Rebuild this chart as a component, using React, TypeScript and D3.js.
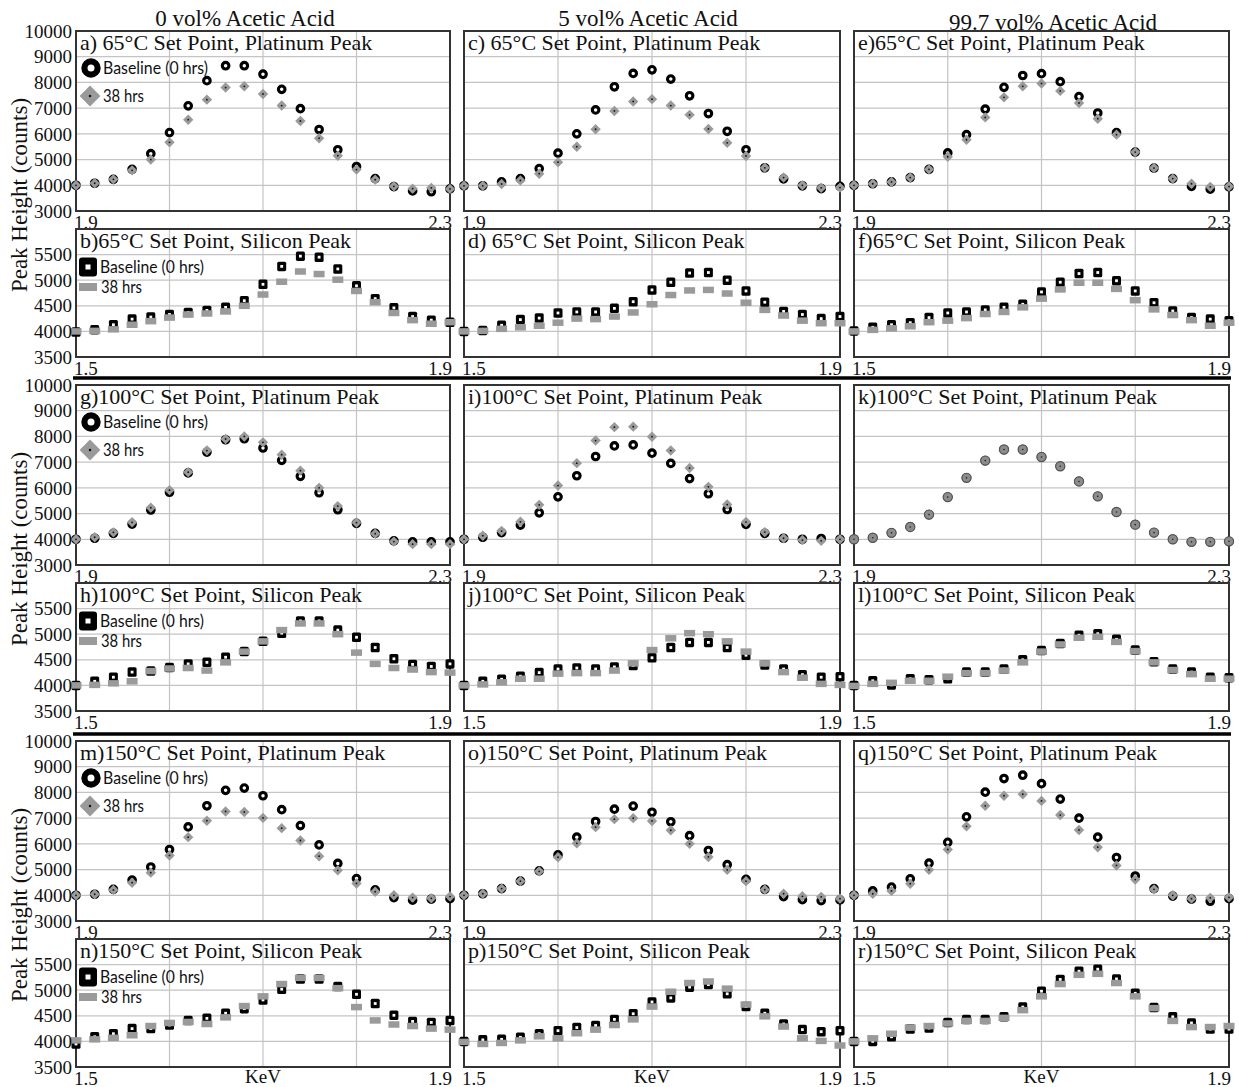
import React from "react";
import * as d3 from "d3";

// Energy positions (KeV) at which the peak heights were sampled
const platinumKeV = [1.9, 1.92, 1.94, 1.96, 1.98, 2.0, 2.02, 2.04, 2.06, 2.08, 2.1, 2.12, 2.14, 2.16, 2.18, 2.2, 2.22, 2.24, 2.26, 2.28, 2.3];
const siliconKeV = [1.5, 1.52, 1.54, 1.56, 1.58, 1.6, 1.62, 1.64, 1.66, 1.68, 1.7, 1.72, 1.74, 1.76, 1.78, 1.8, 1.82, 1.84, 1.86, 1.88, 1.9];

const platinumDomain = [1.9, 2.3];
const siliconDomain = [1.5, 1.9];
const platinumGridKeV = [2.0, 2.1, 2.2];
const siliconGridKeV = [1.6, 1.7, 1.8];
const platinumCounts = [3000, 10000];
const siliconCounts = [3500, 6000];
const platinumTicks = [3000, 4000, 5000, 6000, 7000, 8000, 9000, 10000];
const siliconTicks = [3500, 4000, 4500, 5000, 5500, 6000];
const platinumTickLabels = [3000, 4000, 5000, 6000, 7000, 8000, 9000, 10000];
const siliconTickLabels = [3500, 4000, 4500, 5000, 5500];
const platinumEdgeLabels = ["1.9", "2.3"];
const siliconEdgeLabels = ["1.5", "1.9"];

const columnTitles = ["0 vol% Acetic Acid", "5 vol% Acetic Acid", "99.7 vol% Acetic Acid"];
const seriesNames = ["Baseline (0 hrs)", "38 hrs"];
const yAxisTitle = "Peak Height (counts)";
const xAxisTitle = "KeV";

// Peak height (counts) — baseline (0 hrs) and after 38 hrs
const aBase = [4000, 4080, 4230, 4620, 5230, 6050, 7090, 8070, 8650, 8650, 8320, 7730, 6980, 6170, 5380, 4730, 4260, 3950, 3780, 3750, 3860];
const aAged = [4000, 4080, 4230, 4580, 5000, 5670, 6550, 7330, 7800, 7850, 7550, 7100, 6500, 5830, 5150, 4610, 4220, 3960, 3870, 3900, 3860];
const bBase = [3990, 4030, 4130, 4240, 4280, 4330, 4370, 4410, 4470, 4600, 4920, 5270, 5470, 5450, 5220, 4890, 4640, 4460, 4290, 4220, 4180];
const bAged = [4000, 4010, 4040, 4130, 4200, 4270, 4330, 4350, 4390, 4500, 4720, 4970, 5170, 5120, 5010, 4790, 4570, 4360, 4220, 4150, 4180];
const cBase = [3980, 3980, 4130, 4260, 4650, 5250, 6000, 6930, 7830, 8350, 8490, 8130, 7480, 6790, 6100, 5380, 4680, 4250, 3980, 3870, 3960];
const cAged = [3980, 3980, 4050, 4190, 4450, 4900, 5500, 6180, 6890, 7260, 7350, 7100, 6740, 6190, 5650, 5140, 4680, 4300, 4000, 3900, 3910];
const dBase = [4000, 4020, 4120, 4230, 4260, 4360, 4380, 4380, 4450, 4580, 4810, 4960, 5140, 5150, 5000, 4790, 4570, 4390, 4330, 4250, 4290];
const dAged = [4000, 4010, 4050, 4080, 4110, 4170, 4250, 4240, 4290, 4370, 4530, 4710, 4800, 4810, 4740, 4560, 4420, 4310, 4210, 4160, 4160];
const eBase = [4000, 4060, 4130, 4300, 4620, 5260, 5970, 6960, 7810, 8270, 8340, 8030, 7450, 6810, 6050, 5290, 4670, 4260, 3960, 3850, 3940];
const eAged = [4000, 4060, 4130, 4300, 4620, 5110, 5770, 6640, 7420, 7850, 7960, 7670, 7200, 6590, 5970, 5290, 4670, 4260, 4060, 3940, 3950];
const fBase = [4010, 4080, 4130, 4170, 4270, 4360, 4380, 4420, 4470, 4530, 4770, 4960, 5130, 5150, 4990, 4790, 4560, 4400, 4270, 4240, 4210];
const fAged = [4000, 4030, 4060, 4100, 4180, 4210, 4260, 4340, 4380, 4470, 4640, 4820, 4950, 4950, 4830, 4610, 4430, 4320, 4220, 4110, 4170];
const gBase = [4000, 4040, 4230, 4590, 5140, 5830, 6580, 7390, 7870, 7910, 7550, 7070, 6450, 5810, 5150, 4620, 4230, 3940, 3900, 3900, 3900];
const gAged = [4000, 4080, 4270, 4660, 5230, 5910, 6610, 7450, 7900, 8000, 7770, 7290, 6670, 6000, 5290, 4650, 4220, 3910, 3810, 3810, 3810];
const hBase = [4000, 4080, 4160, 4260, 4280, 4350, 4420, 4450, 4550, 4660, 4860, 5020, 5260, 5260, 5080, 4940, 4740, 4520, 4410, 4370, 4420];
const hAged = [4000, 4010, 4040, 4080, 4280, 4330, 4340, 4290, 4450, 4660, 4860, 5080, 5210, 5210, 5000, 4640, 4420, 4340, 4310, 4260, 4250];
const iBase = [4000, 4080, 4260, 4550, 5030, 5650, 6470, 7220, 7630, 7670, 7350, 6950, 6360, 5770, 5160, 4580, 4230, 4040, 4000, 4030, 4000];
const iAged = [4000, 4140, 4320, 4680, 5340, 6090, 6960, 7840, 8360, 8380, 7990, 7450, 6770, 6040, 5350, 4670, 4280, 4040, 3970, 3940, 4000];
const jBase = [4000, 4080, 4120, 4180, 4250, 4320, 4340, 4320, 4360, 4390, 4540, 4740, 4840, 4840, 4740, 4590, 4400, 4320, 4210, 4160, 4170];
const jAged = [4000, 4020, 4060, 4130, 4130, 4230, 4240, 4240, 4290, 4430, 4690, 4920, 5020, 5000, 4860, 4660, 4430, 4260, 4150, 4030, 4010];
const kBase = [4000, 4060, 4250, 4480, 4960, 5640, 6390, 7060, 7490, 7490, 7200, 6840, 6250, 5670, 5060, 4570, 4260, 4000, 3900, 3900, 3920];
const kAged = [4000, 4060, 4250, 4480, 4960, 5640, 6390, 7060, 7490, 7490, 7200, 6840, 6250, 5670, 5060, 4570, 4260, 4000, 3900, 3900, 3920];
const lBase = [4000, 4090, 4010, 4130, 4110, 4130, 4260, 4260, 4320, 4500, 4680, 4820, 4980, 5010, 4900, 4690, 4460, 4320, 4260, 4160, 4150];
const lAged = [3990, 4030, 4050, 4090, 4090, 4170, 4240, 4240, 4290, 4450, 4660, 4800, 4930, 4950, 4850, 4670, 4450, 4300, 4220, 4130, 4130];
const mBase = [4000, 4040, 4230, 4590, 5100, 5780, 6660, 7480, 8080, 8170, 7870, 7330, 6710, 5960, 5240, 4650, 4210, 3910, 3810, 3850, 3870];
const mAged = [4000, 4040, 4210, 4490, 4880, 5550, 6260, 6900, 7260, 7240, 7010, 6610, 6130, 5520, 4970, 4460, 4140, 4000, 3910, 3880, 3950];
const nBase = [3950, 4090, 4150, 4250, 4250, 4320, 4410, 4450, 4550, 4640, 4810, 5020, 5220, 5220, 5070, 4920, 4740, 4510, 4390, 4370, 4410];
const nAged = [4020, 4040, 4070, 4120, 4300, 4360, 4380, 4340, 4470, 4690, 4880, 5120, 5240, 5240, 5040, 4670, 4410, 4330, 4300, 4250, 4230];
const oBase = [4000, 4060, 4260, 4550, 4950, 5570, 6260, 6870, 7350, 7470, 7230, 6860, 6320, 5740, 5190, 4620, 4230, 3950, 3830, 3790, 3820];
const oAged = [4000, 4060, 4260, 4550, 4930, 5480, 6020, 6650, 6960, 7000, 6890, 6530, 6000, 5490, 4990, 4550, 4220, 4060, 3960, 3940, 3870];
const pBase = [4000, 4030, 4040, 4080, 4150, 4210, 4270, 4310, 4430, 4540, 4770, 4850, 5060, 5110, 4930, 4680, 4550, 4340, 4230, 4190, 4210];
const pAged = [3990, 3950, 3970, 4020, 4100, 4060, 4160, 4230, 4320, 4430, 4680, 4970, 5140, 5170, 5030, 4720, 4490, 4290, 4060, 4010, 3920];
const qBase = [4000, 4170, 4320, 4640, 5250, 6060, 7050, 8010, 8540, 8670, 8340, 7740, 7000, 6260, 5470, 4750, 4260, 3970, 3850, 3770, 3870];
const qAged = [4000, 4060, 4170, 4450, 4990, 5780, 6680, 7480, 7870, 7930, 7670, 7120, 6540, 5870, 5160, 4610, 4230, 4000, 3870, 3900, 3920];
const rBase = [4000, 4000, 4090, 4240, 4260, 4370, 4430, 4430, 4480, 4670, 4980, 5210, 5370, 5410, 5220, 4940, 4660, 4480, 4360, 4240, 4240];
const rAged = [4000, 4060, 4150, 4270, 4300, 4350, 4400, 4400, 4460, 4610, 4880, 5120, 5300, 5320, 5140, 4880, 4650, 4400, 4280, 4280, 4300];

type Peak = "pt" | "si";
interface PanelSpec {
  title: string;
  col: number;
  block: number;
  peak: Peak;
  base: number[];
  aged: number[];
  agedRound?: boolean;
  grid?: number[];
}

const panels: PanelSpec[] = [
  { title: "a) 65°C Set Point, Platinum Peak", col: 0, block: 0, peak: "pt", base: aBase, aged: aAged },
  { title: "b)65°C Set Point, Silicon Peak", col: 0, block: 0, peak: "si", base: bBase, aged: bAged },
  { title: "c) 65°C Set Point, Platinum Peak", col: 1, block: 0, peak: "pt", base: cBase, aged: cAged },
  { title: "d) 65°C Set Point, Silicon Peak", col: 1, block: 0, peak: "si", base: dBase, aged: dAged },
  { title: "e)65°C Set Point, Platinum Peak", col: 2, block: 0, peak: "pt", base: eBase, aged: eAged },
  { title: "f)65°C Set Point, Silicon Peak", col: 2, block: 0, peak: "si", base: fBase, aged: fAged },
  { title: "g)100°C Set Point, Platinum Peak", col: 0, block: 1, peak: "pt", base: gBase, aged: gAged },
  { title: "h)100°C Set Point, Silicon Peak", col: 0, block: 1, peak: "si", base: hBase, aged: hAged },
  { title: "i)100°C Set Point, Platinum Peak", col: 1, block: 1, peak: "pt", base: iBase, aged: iAged },
  { title: "j)100°C Set Point, Silicon Peak", col: 1, block: 1, peak: "si", base: jBase, aged: jAged },
  { title: "k)100°C Set Point, Platinum Peak", col: 2, block: 1, peak: "pt", base: kBase, aged: kAged, agedRound: true, grid: [2.1, 2.2] },
  { title: "l)100°C Set Point, Silicon Peak", col: 2, block: 1, peak: "si", base: lBase, aged: lAged, grid: [1.7, 1.8] },
  { title: "m)150°C Set Point, Platinum Peak", col: 0, block: 2, peak: "pt", base: mBase, aged: mAged },
  { title: "n)150°C Set Point, Silicon Peak", col: 0, block: 2, peak: "si", base: nBase, aged: nAged },
  { title: "o)150°C Set Point, Platinum Peak", col: 1, block: 2, peak: "pt", base: oBase, aged: oAged },
  { title: "p)150°C Set Point, Silicon Peak", col: 1, block: 2, peak: "si", base: pBase, aged: pAged },
  { title: "q)150°C Set Point, Platinum Peak", col: 2, block: 2, peak: "pt", base: qBase, aged: qAged },
  { title: "r)150°C Set Point, Silicon Peak", col: 2, block: 2, peak: "si", base: rBase, aged: rAged },
];

// ---- layout ----
const W = 1239;
const H = 1087;
const COLS = [
  { x0: 76, x1: 450 },
  { x0: 464, x1: 840 },
  { x0: 854, x1: 1229 },
];
const BLOCK_TOP = [31, 385, 741];
const PT_H = 180;
const SI_OFFSET = 198;
const SI_H = 128;
const SEPARATORS = [378, 734];
const TITLE_POS = [
  { x: 245, y: 26 },
  { x: 648, y: 26 },
  { x: 1053, y: 30 },
];

const SERIF = "'Liberation Serif', 'Times New Roman', Times, serif";
const SANS = "Lato, 'Open Sans', 'DejaVu Sans', sans-serif";
const GRAY = "#9a9a9a";
const GRID = "#c4c4c4";
const FRAME = "#333";

// ---- markers ----
function RingMarker({ x, y, s = 1, color = "#000" }: { x: number; y: number; s?: number; color?: string }) {
  return <circle cx={x} cy={y} r={3.3 * s} fill="#fff" stroke={color} strokeWidth={3.1 * s} />;
}

function DiamondMarker({ x, y, s = 1 }: { x: number; y: number; s?: number }) {
  const h = 5.2 * s;
  return (
    <g>
      <path d={`M${x},${y - h}L${x + h},${y}L${x},${y + h}L${x - h},${y}Z`} fill={GRAY} />
      <circle cx={x} cy={y} r={0.9 * Math.min(s, 1.4)} fill="#111" />
    </g>
  );
}

function RoundAgedMarker({ x, y }: { x: number; y: number }) {
  return (
    <g>
      <circle cx={x} cy={y} r={4.6} fill="#8c8c8c" stroke="#555" strokeWidth={1.2} />
      <circle cx={x} cy={y} r={0.8} fill="#222" />
    </g>
  );
}

function SquareMarker({ x, y, w = 9, h = 9.5, inner = 2.8 }: { x: number; y: number; w?: number; h?: number; inner?: number }) {
  return (
    <g>
      <rect x={x - w / 2} y={y - h / 2} width={w} height={h} rx={w * 0.17} fill="#000" />
      <rect x={x - inner / 2} y={y - inner / 2} width={inner} height={inner} fill="#fff" />
    </g>
  );
}

function BarMarker({ x, y, w = 11, h = 6.5 }: { x: number; y: number; w?: number; h?: number }) {
  return <rect x={x - w / 2} y={y - h / 2} width={w} height={h} fill={GRAY} />;
}

function Panel({ spec }: { spec: PanelSpec }) {
  const { x0, x1 } = COLS[spec.col];
  const isPt = spec.peak === "pt";
  const top = BLOCK_TOP[spec.block] + (isPt ? 0 : SI_OFFSET);
  const bottom = top + (isPt ? PT_H : SI_H);
  const keV = isPt ? platinumKeV : siliconKeV;
  const x = d3.scaleLinear().domain(isPt ? platinumDomain : siliconDomain).range([x0, x1]);
  const y = d3.scaleLinear().domain(isPt ? platinumCounts : siliconCounts).range([bottom, top]);
  const yTicks = isPt ? platinumTicks : siliconTicks;
  const yLabels = isPt ? platinumTickLabels : siliconTickLabels;
  const vGrid = spec.grid ?? (isPt ? platinumGridKeV : siliconGridKeV);
  const edge = isPt ? platinumEdgeLabels : siliconEdgeLabels;
  const showY = spec.col === 0;
  const edgeY = bottom + 17.5;

  return (
    <g>
      <rect x={x0} y={top} width={x1 - x0} height={bottom - top} fill="#fff" />
      {yTicks.map((t) => (
        <line key={`h${t}`} x1={x0} x2={x1} y1={y(t)} y2={y(t)} stroke={GRID} strokeWidth={1.2} />
      ))}
      {vGrid.map((t) => (
        <line key={`v${t}`} x1={x(t)} x2={x(t)} y1={top} y2={bottom} stroke={GRID} strokeWidth={1.2} />
      ))}
      <rect x={x0} y={top} width={x1 - x0} height={bottom - top} fill="none" stroke={FRAME} strokeWidth={2} />
      <text x={x0 + 4} y={top + 18.5} fontFamily={SERIF} fontSize={22} fill="#111">
        {spec.title}
      </text>

      {/* baseline series */}
      {spec.base.map((v, i) =>
        isPt ? (
          <RingMarker key={`b${i}`} x={x(keV[i])} y={y(v)} color={spec.agedRound ? "#333" : "#000"} />
        ) : (
          <SquareMarker key={`b${i}`} x={x(keV[i])} y={y(v)} />
        )
      )}
      {/* 38 hrs series */}
      {spec.aged.map((v, i) =>
        isPt ? (
          spec.agedRound ? (
            <RoundAgedMarker key={`a${i}`} x={x(keV[i])} y={y(v)} />
          ) : (
            <DiamondMarker key={`a${i}`} x={x(keV[i])} y={y(v)} />
          )
        ) : (
          <BarMarker key={`a${i}`} x={x(keV[i])} y={y(v)} />
        )
      )}

      {showY &&
        (isPt ? (
          <g>
            <RingMarker x={91} y={top + 37} s={2} />
            <text x={103} y={top + 43} fontFamily={SANS} fontSize={16.5} fill="#111" textLength={105} lengthAdjust="spacingAndGlyphs">
              {seriesNames[0]}
            </text>
            <DiamondMarker x={90} y={top + 65} s={2} />
            <text x={103} y={top + 71} fontFamily={SANS} fontSize={16.5} fill="#111" textLength={41} lengthAdjust="spacingAndGlyphs">
              {seriesNames[1]}
            </text>
          </g>
        ) : (
          <g>
            <SquareMarker x={88} y={top + 38} w={18} h={19} inner={5} />
            <text x={100} y={top + 44} fontFamily={SANS} fontSize={16.5} fill="#111" textLength={104} lengthAdjust="spacingAndGlyphs">
              {seriesNames[0]}
            </text>
            <BarMarker x={88} y={top + 58} w={18} h={8} />
            <text x={101} y={top + 64} fontFamily={SANS} fontSize={16.5} fill="#111" textLength={41} lengthAdjust="spacingAndGlyphs">
              {seriesNames[1]}
            </text>
          </g>
        ))}

      {showY &&
        yLabels.map((t) => (
          <text key={`yl${t}`} x={72} y={y(t)} dy="0.35em" textAnchor="end" fontFamily={SERIF} fontSize={19} fill="#111">
            {t}
          </text>
        ))}

      <text x={x0 - 2} y={edgeY} fontFamily={SERIF} fontSize={19} fill="#111">
        {edge[0]}
      </text>
      <text x={x1 + 2} y={edgeY} textAnchor="end" fontFamily={SERIF} fontSize={19} fill="#111">
        {edge[1]}
      </text>
      {!isPt && spec.block === 2 && (
        <text x={(x0 + x1) / 2} y={bottom + 16} textAnchor="middle" fontFamily={SERIF} fontSize={19} fill="#111">
          {xAxisTitle}
        </text>
      )}
    </g>
  );
}

export default function App() {
  const ordered = [...panels].sort((p, q) => p.block - q.block || (p.peak === q.peak ? p.col - q.col : p.peak === "pt" ? -1 : 1));
  return (
    <svg width={W} height={H} viewBox={`0 0 ${W} ${H}`} style={{ position: "absolute", left: 0, top: 0, background: "#fff" }}>
      <rect width={W} height={H} fill="#fff" />
      {columnTitles.map((t, i) => (
        <text key={t} x={TITLE_POS[i].x} y={TITLE_POS[i].y} textAnchor="middle" fontFamily={SERIF} fontSize={23} fill="#111">
          {t}
        </text>
      ))}
      {ordered.map((p) => (
        <Panel key={p.title} spec={p} />
      ))}
      {BLOCK_TOP.map((t, i) => (
        <text
          key={`yt${i}`}
          transform={`translate(27,${t + 164}) rotate(-90)`}
          textAnchor="middle"
          fontFamily={SERIF}
          fontSize={23}
          fill="#111"
        >
          {yAxisTitle}
        </text>
      ))}
      {SEPARATORS.map((s) => (
        <line key={`sep${s}`} x1={73} x2={1231} y1={s} y2={s} stroke="#000" strokeWidth={3.5} />
      ))}
    </svg>
  );
}
